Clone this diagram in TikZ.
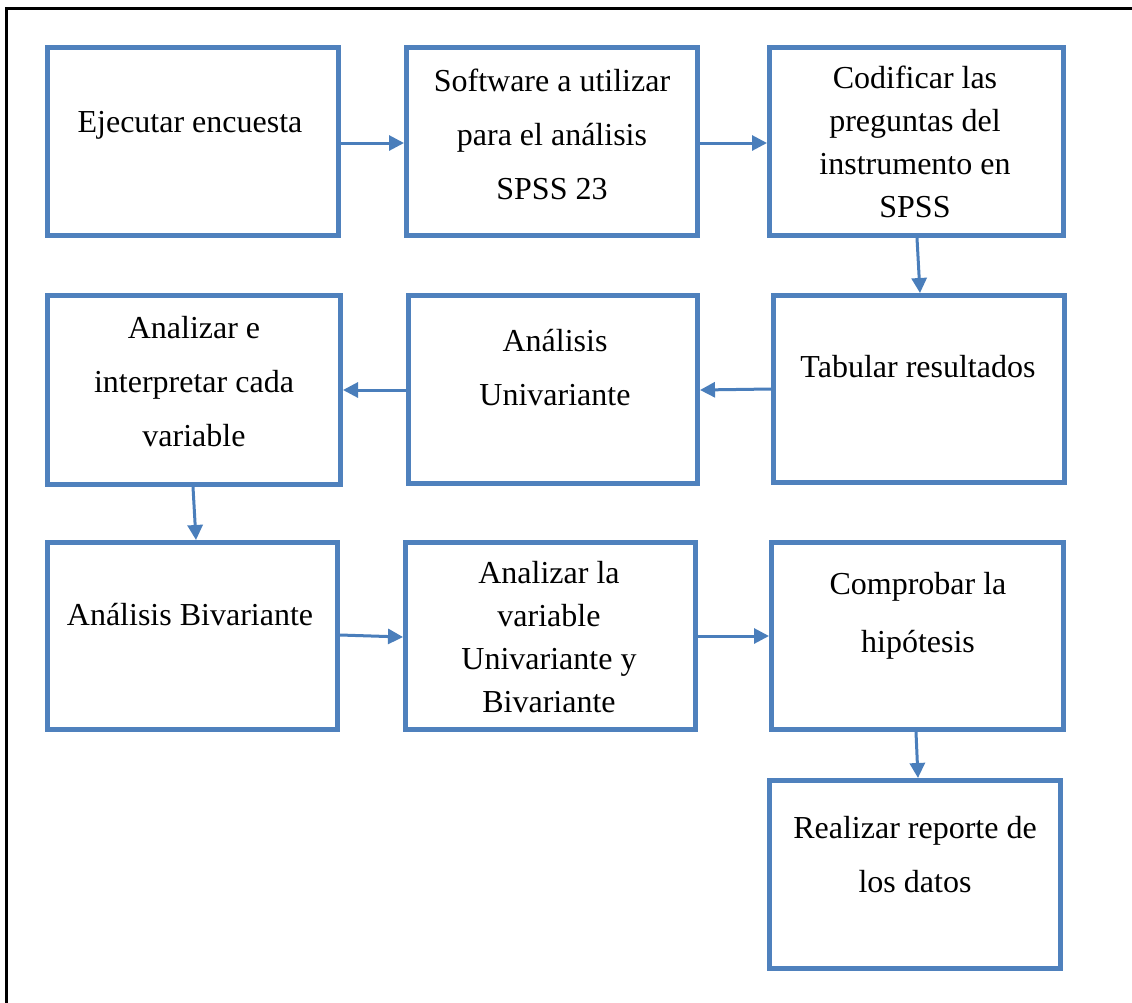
\documentclass[tikz,border=0pt]{standalone}
\usepackage{fontspec}
\setmainfont{Liberation Serif}
\usetikzlibrary{arrows.meta,calc}
\definecolor{boxblue}{HTML}{4F81BD}
\definecolor{arrblue}{HTML}{4A7EBB}
\tikzset{
  x=0.5pt, y=-0.5pt,
  box/.style 2 args={draw=boxblue, line width=2.5pt, inner sep=0pt,
    minimum width=#1*0.5pt-2.5pt, minimum height=#2*0.5pt-2.5pt},
  txt/.style={align=center, inner sep=0pt, font=\fontsize{16}{27}\selectfont},
  txtt/.style={align=center, inner sep=0pt, font=\fontsize{16}{21.5}\selectfont},
  arr/.style={draw=arrblue, line width=1.5pt, -{Triangle[length=7.5pt,width=7.5pt]}},
}
\begin{document}
\begin{tikzpicture}
\useasboundingbox (0,0) rectangle (1132,1003);
% outer frame (top and left only)
\draw[black, line width=1.2pt] (6.5,1003) -- (6.5,8.5) -- (1132,8.5);

% boxes
\node[box={296}{193}] (b1) at (193,141.5) {};
\node[box={296}{193}] (b2) at (552,141.5) {};
\node[box={299}{193}] (b3) at (916.5,141.5) {};
\node[box={296}{192}] (b4) at (919,389) {};
\node[box={294}{193}] (b5) at (553,389.5) {};
\node[box={298}{194}] (b6) at (194,390) {};
\node[box={295}{192}] (b7) at (192.5,636) {};
\node[box={295}{192}] (b8) at (550.5,636) {};
\node[box={297}{192}] (b9) at (917.5,636) {};
\node[box={296}{193}] (b10) at (915,874.5) {};

% texts
\node[txt] (t1) at (190,125) {Ejecutar encuesta};
\node[txt] (t2) at (552,134) {Software a utilizar\\para el análisis\\SPSS 23};
\node[txtt] (t3) at (915,142) {Codificar las\\preguntas del\\instrumento en\\SPSS};
\node[txt] (t4) at (918,367) {Tabular resultados};
\node[txt] (t5) at (555,368) {Análisis\\Univariante};
\node[txt] (t6) at (194,382) {Analizar e\\interpretar cada\\variable};
\node[txt] (t7) at (190,615) {Análisis Bivariante};
\node[txtt] (t8) at (549,637) {Analizar la\\variable\\Univariante y\\Bivariante};
\node[txt,font=\fontsize{16}{29}\selectfont] (t9) at (918,616) {Comprobar la\\hipótesis};
\node[txt] (t10) at (915,855) {Realizar reporte de\\los datos};

% arrows
\draw[arr] (b1.east |- 0,143) -- (b2.west |- 0,143);
\draw[arr] (b2.east |- 0,143) -- (b3.west |- 0,143);
\draw[arr] (b3.south -| 917,0) -- (b4.north -| 920,0);
\draw[arr] (b4.west |- 0,389) -- (b5.east |- 0,390);
\draw[arr] (b5.west |- 0,390) -- (b6.east |- 0,390);
\draw[arr] (b6.south -| 193,0) -- (b7.north -| 196,0);
\draw[arr] (b7.east |- 0,635) -- (b8.west |- 0,637);
\draw[arr] (b8.east |- 0,636) -- (b9.west |- 0,636);
\draw[arr] (b9.south -| 916,0) -- (b10.north -| 918,0);
\end{tikzpicture}
\end{document}
